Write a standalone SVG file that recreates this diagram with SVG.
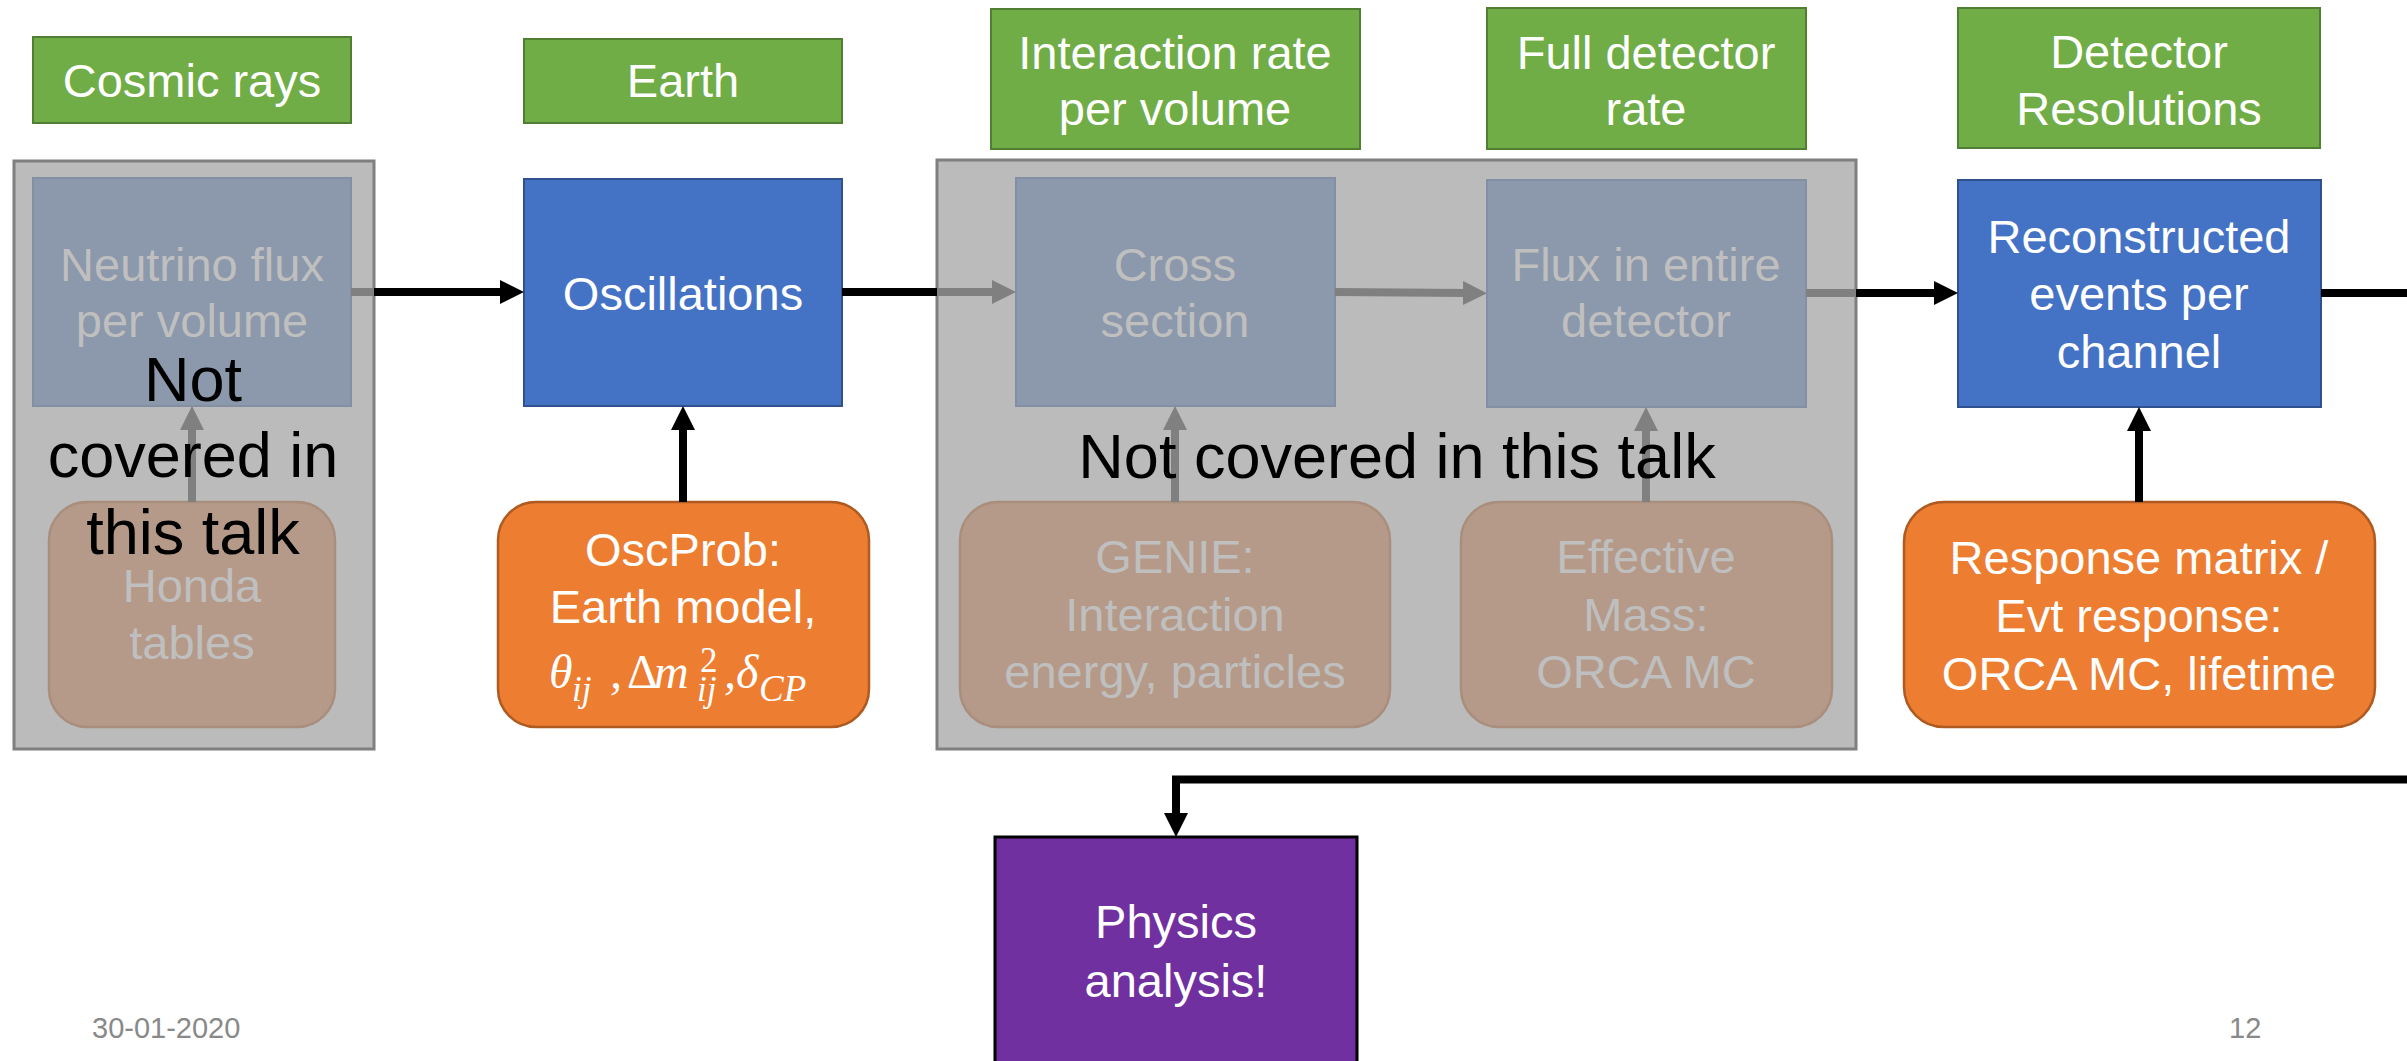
<svg xmlns="http://www.w3.org/2000/svg" width="2407" height="1061" viewBox="0 0 2407 1061">
<style>
.g{fill:#70AD47;stroke:#507E32;stroke-width:2}
.b{fill:#4472C4;stroke:#2F528F;stroke-width:2}
.o{fill:#ED7D31;stroke:#AE5A21;stroke-width:2.5}
.fb{fill:#8C98AB;stroke:#8390A4;stroke-width:2}
.fo{fill:#B59A89;stroke:#A98E7E;stroke-width:2.5}
.gbox{fill:#BBBBBB;stroke:#7F7F7F;stroke-width:3}
.p{fill:#7030A0;stroke:#000;stroke-width:3}
text{font-family:"Liberation Sans",Arial,sans-serif}
.t{font-size:47px;fill:#fff;text-anchor:middle}
.f{fill:#BFBFBF}
.k{font-size:63px;fill:#000;text-anchor:middle}
.d{font-size:29px;fill:#898989}
.m{font-family:"Liberation Serif","DejaVu Serif",serif;font-style:italic;fill:#fff}
.ln{fill:none;stroke:#000;stroke-width:8}
.lg{fill:none;stroke:#808080;stroke-width:8}
</style>
<defs>
<marker id="ab" viewBox="0 0 24 24" refX="4" refY="12" markerWidth="24" markerHeight="24" markerUnits="userSpaceOnUse" orient="auto"><path d="M0,0 L24,12 L0,24 z" fill="#000"/></marker>
<marker id="ag" viewBox="0 0 24 24" refX="4" refY="12" markerWidth="24" markerHeight="24" markerUnits="userSpaceOnUse" orient="auto"><path d="M0,0 L24,12 L0,24 z" fill="#808080"/></marker>
</defs>
<rect width="2407" height="1061" fill="#fff"/>

<!-- header labels -->
<g id="lbl-cosmic"><rect class="g" x="33" y="37" width="318" height="86"/><text class="t" x="192" y="97">Cosmic rays</text></g>
<g id="lbl-earth"><rect class="g" x="524" y="39" width="318" height="84"/><text class="t" x="683" y="97">Earth</text></g>
<g id="lbl-interaction"><rect class="g" x="991" y="9" width="369" height="140"/><text class="t" x="1175" y="69">Interaction rate</text><text class="t" x="1175" y="125">per volume</text></g>
<g id="lbl-full"><rect class="g" x="1487" y="8" width="319" height="141"/><text class="t" x="1646" y="69">Full detector</text><text class="t" x="1646" y="125">rate</text></g>
<g id="lbl-resol"><rect class="g" x="1958" y="8" width="362" height="140"/><text class="t" x="2139" y="68">Detector</text><text class="t" x="2139" y="125">Resolutions</text></g>

<!-- gray overlay containers -->
<g id="grey-left"><rect class="gbox" x="14" y="161" width="360" height="588"/></g>
<g id="grey-mid"><rect class="gbox" x="937" y="160" width="919" height="589"/></g>

<!-- faded nodes -->
<g id="flux"><rect class="fb" x="33" y="178" width="318" height="228"/><text class="t f" x="192" y="281">Neutrino flux</text><text class="t f" x="192" y="337">per volume</text></g>
<g id="honda"><rect class="fo" x="49" y="502" width="286" height="225" rx="38"/><text class="t f" x="192" y="602">Honda</text><text class="t f" x="192" y="659">tables</text></g>
<g id="xsec"><rect class="fb" x="1016" y="178" width="319" height="228"/><text class="t f" x="1175" y="281">Cross</text><text class="t f" x="1175" y="337">section</text></g>
<g id="fluxdet"><rect class="fb" x="1487" y="180" width="319" height="227"/><text class="t f" x="1646" y="281">Flux in entire</text><text class="t f" x="1646" y="337">detector</text></g>
<g id="genie"><rect class="fo" x="960" y="502" width="430" height="225" rx="38"/><text class="t f" x="1175" y="573">GENIE:</text><text class="t f" x="1175" y="631">Interaction</text><text class="t f" x="1175" y="688">energy, particles</text></g>
<g id="effmass"><rect class="fo" x="1461" y="502" width="371" height="225" rx="38"/><text class="t f" x="1646" y="573">Effective</text><text class="t f" x="1646" y="631">Mass:</text><text class="t f" x="1646" y="688">ORCA MC</text></g>

<!-- active nodes -->
<g id="osc"><rect class="b" x="524" y="179" width="318" height="227"/><text class="t" x="683" y="310">Oscillations</text></g>
<g id="oscprob"><rect class="o" x="498" y="502" width="371" height="225" rx="38"/><text class="t" x="683" y="566">OscProb:</text><text class="t" x="683" y="623">Earth model,</text>
<text class="m" font-size="48"><tspan x="549" y="688">θ</tspan><tspan x="572" y="701" font-size="35">ij</tspan><tspan x="610" y="688">,</tspan><tspan x="627" y="688" font-style="normal">Δ</tspan><tspan x="654" y="688">m</tspan><tspan x="700" y="672" font-size="35" font-style="normal">2</tspan><tspan x="697" y="701" font-size="35">ij</tspan><tspan x="724" y="688">,</tspan><tspan x="736" y="688">δ</tspan><tspan x="759" y="701" font-size="37">CP</tspan></text></g>
<g id="reco"><rect class="b" x="1958" y="180" width="363" height="227"/><text class="t" x="2139" y="253">Reconstructed</text><text class="t" x="2139" y="310">events per</text><text class="t" x="2139" y="368">channel</text></g>
<g id="response"><rect class="o" x="1904" y="502" width="471" height="225" rx="40"/><text class="t" x="2139" y="574">Response matrix /</text><text class="t" x="2139" y="632">Evt response:</text><text class="t" x="2139" y="690">ORCA MC, lifetime</text></g>
<g id="physics"><rect class="p" x="995" y="837" width="362" height="260"/><text class="t" x="1176" y="938">Physics</text><text class="t" x="1176" y="997">analysis!</text></g>

<!-- connectors -->
<g id="connectors">
<line class="lg" x1="351" y1="292" x2="374" y2="292"/>
<line class="ln" x1="374" y1="292" x2="504" y2="292" marker-end="url(#ab)"/>
<line class="ln" x1="842" y1="292" x2="937" y2="292"/>
<line class="lg" x1="937" y1="292" x2="996" y2="292" marker-end="url(#ag)"/>
<line class="lg" x1="1335" y1="292" x2="1467" y2="293" marker-end="url(#ag)"/>
<line class="lg" x1="1806" y1="293" x2="1856" y2="293"/>
<line class="ln" x1="1856" y1="293" x2="1938" y2="293" marker-end="url(#ab)"/>
<path class="ln" d="M2321,293 H2430 V779.5 H1176 V817" marker-end="url(#ab)"/>
<line class="ln" x1="683" y1="502" x2="683" y2="426" marker-end="url(#ab)"/>
<line class="ln" x1="2139" y1="502" x2="2139" y2="427" marker-end="url(#ab)"/>
<line class="lg" x1="192" y1="502" x2="192" y2="426" marker-end="url(#ag)"/>
<line class="lg" x1="1175" y1="502" x2="1175" y2="426" marker-end="url(#ag)"/>
<line class="lg" x1="1646" y1="502" x2="1646" y2="427" marker-end="url(#ag)"/>
</g>

<!-- overlay notes -->
<g id="note-left"><text class="k" x="193" y="401">Not</text><text class="k" x="193" y="477">covered in</text><text class="k" x="193" y="554">this talk</text></g>
<g id="note-mid"><text class="k" x="1397" y="478">Not covered in this talk</text></g>

<g id="footer"><text class="d" x="92" y="1038">30-01-2020</text><text class="d" x="2229" y="1038">12</text></g>
</svg>
